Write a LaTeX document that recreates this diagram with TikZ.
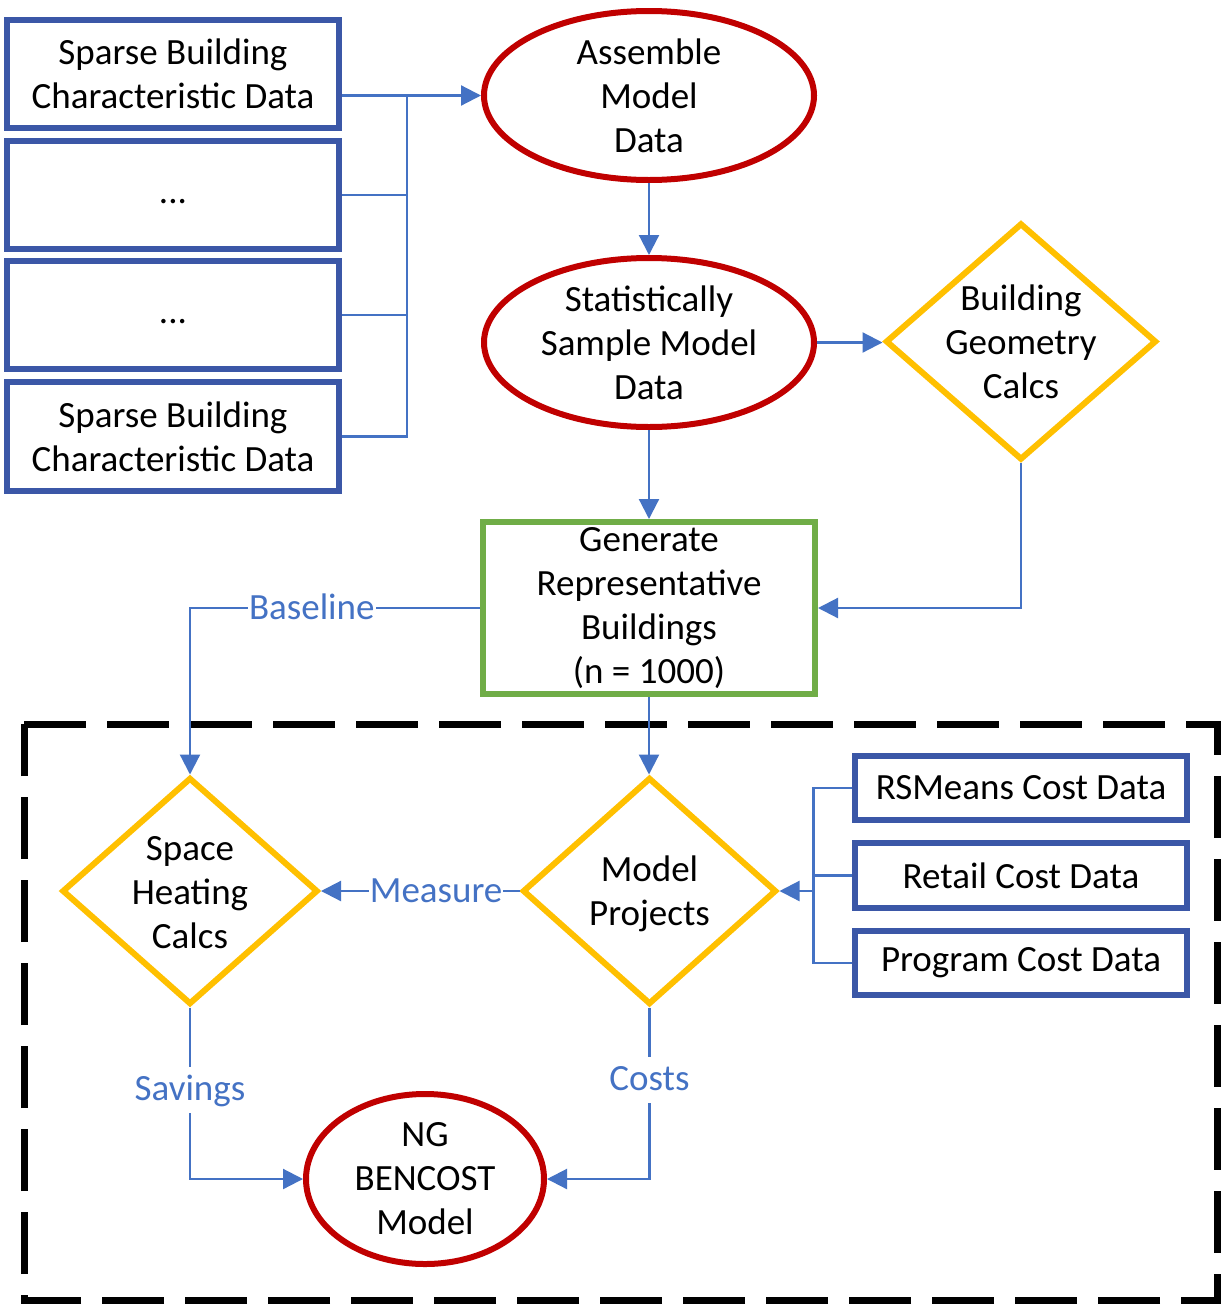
\documentclass[tikz,border=0pt]{standalone}
\usepackage{fontspec}
\setmainfont{Carlito}
\usetikzlibrary{shapes.geometric,arrows.meta}
\definecolor{boxblue}{RGB}{59,87,167}
\definecolor{lineblue}{RGB}{68,114,196}
\definecolor{redc}{RGB}{192,0,0}
\definecolor{yellowc}{RGB}{255,192,0}
\definecolor{greenc}{RGB}{112,173,71}
\begin{document}
\begin{tikzpicture}[x=1pt,y=-1pt,
  txt/.style={align=center,inner sep=0pt,font=\fontsize{37}{44}\selectfont},
  databox/.style={txt,draw=boxblue,line width=6pt,rectangle,minimum width=332pt},
  oval/.style={draw=redc,line width=6pt,ellipse,inner sep=0pt,minimum width=330pt,minimum height=169pt},
  decide/.style={draw=yellowc,line width=6pt,diamond,inner sep=0pt},
  genbox/.style={draw=greenc,line width=6pt,rectangle,inner sep=0pt,minimum width=332pt,minimum height=172pt},
  conn/.style={draw=lineblue,line width=2.2pt},
  arr/.style={conn,-{Triangle[length=20pt,width=20pt]}},
  lbl/.style={fill=white,text=lineblue,font=\fontsize{37}{44}\selectfont,inner xsep=1pt,inner ysep=5pt,text height=29pt,text depth=7pt}
]
\useasboundingbox (0,0) rectangle (1225,1304);
\fill[white] (0,0) rectangle (1225,1304);

% dashed boundary
\draw[line width=7pt,dash pattern=on 62pt off 21pt] (24,724) -- (1217,724) -- (1217,1300) -- (24,1300) -- cycle;

% input boxes
\node[databox,minimum height=108pt] (box1) at (173,74) {Sparse Building\\Characteristic Data};
\node[databox,minimum height=108pt] (box2) at (173,195) {\vphantom{Ag}...};
\node[databox,minimum height=108pt] (box3) at (173,315) {\vphantom{Ag}...};
\node[databox,minimum height=109pt] (box4) at (173,436.5) {Sparse Building\\Characteristic Data};

% ovals
\node[oval] (assemble) at (649,95.5) {};
\node[txt] (tassemble) at (assemble.center) {Assemble\\Model\\Data};
\node[oval] (stat) at (649,342.5) {};
\node[txt] (tstat) at (stat.center) {Statistically\\Sample Model\\Data};

% geometry diamond
\node[decide,minimum width=271pt,minimum height=237pt] (geo) at (1021,341.5) {};
\node[txt] (tgeo) at (geo.center) {Building\\Geometry\\Calcs};

% generate box
\node[genbox] (gen) at (649,608) {};
\node[txt] (tgen) at (gen.center) {Generate\\Representative\\Buildings\\(n = 1000)};

% lower diamonds
\node[decide,minimum width=256pt,minimum height=227pt] (space) at (190,891) {};
\node[txt] (tspace) at ([yshift=-2pt]space.center) {Space\\Heating\\Calcs};
\node[decide,minimum width=254pt,minimum height=227pt] (proj) at (649.5,891) {};
\node[txt] (tproj) at ([yshift=-3pt]proj.center) {Model\\Projects};

% cost boxes
\node[databox,minimum height=64pt] (rs) at (1021,788) {RSMeans Cost Data};
\node[databox,minimum height=65pt] (ret) at (1021,875.5) {Retail Cost Data};
\node[databox,minimum height=64pt] (prog) at (1021,963) {Program Cost Data};

% NG BENCOST
\node[draw=redc,line width=6pt,ellipse,inner sep=0pt,minimum width=238pt,minimum height=170pt] (ng) at (425,1179) {};
\node[txt] (tng) at (ng.center) {NG\\BENCOST\\Model};

% connectors
\coordinate (jx) at (407,95.5);
\draw[arr] (box1.east |- assemble.west) -- (assemble.west);
\draw[conn] (box2.east) -- (box2.east -| jx);
\draw[conn] (box3.east) -- (box3.east -| jx);
\draw[conn] (box4.east) -| (jx);

\draw[arr] (assemble.south) -- (stat.north);
\draw[arr] (stat.east) -- (stat.east -| geo.west);
\draw[arr] (stat.south) -- (gen.north);
\draw[arr] (geo.south) |- (gen.east);
\draw[arr] (gen.west) -| node[lbl,pos=0.29] (lbase) {Baseline} (space.north);
\draw[arr] (gen.south) -- (gen.south |- proj.north);
\draw[arr] (proj.west) -- node[lbl,pos=0.42] (lmeas) {Measure} (space.east);

\coordinate (cj) at (813.5,891);
\draw[conn] (rs.west) -| (cj);
\draw[conn] (prog.west) -| (cj);
\draw[conn] (ret.west) -- (ret.west -| cj);
\draw[arr] (cj) -- (proj.east);

\draw[arr] (space.south) |- node[lbl,pos=0.24] (lsav) {Savings} (ng.west);
\draw[arr] (proj.south) |- node[lbl,pos=0.21] (lcost) {Costs} (ng.east);
\end{tikzpicture}
\end{document}
